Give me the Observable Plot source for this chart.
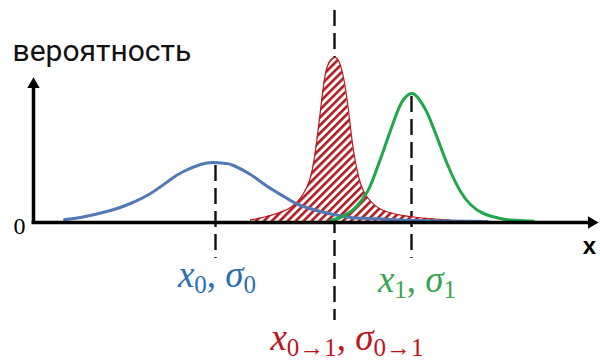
<!DOCTYPE html>
<html>
<head>
<meta charset="utf-8">
<script src="https://cdn.jsdelivr.net/npm/d3@7"></script>
<script src="https://cdn.jsdelivr.net/npm/@observablehq/plot@0.6"></script>
<style>
  body { margin: 0; background: #fff; }
</style>
</head>
<body>
<div id="chart"></div>
<script>
// Prior estimate (blue): wide bell around x0
const priorX = [0.58, 0.90, 1.50, 1.90, 2.30, 2.70, 2.96, 3.30, 3.56, 3.80, 3.96, 4.30, 4.64, 5.00, 5.30, 5.70, 5.96, 6.30, 6.64, 7.30, 8.30, 9.04];
const priorP = [0.03, 0.05, 0.12, 0.19, 0.29, 0.43, 0.51, 0.58, 0.60, 0.59, 0.57, 0.48, 0.36, 0.25, 0.17, 0.11, 0.08, 0.05, 0.04, 0.025, 0.015, 0.01];

// Measurement (green): narrower bell around x1
const measX = [5.90, 6.10, 6.24, 6.40, 6.64, 6.80, 6.96, 7.10, 7.24, 7.36, 7.52, 7.66, 7.80, 7.90, 8.04, 8.16, 8.30, 8.50, 8.70, 8.96, 9.30, 9.50, 9.96];
const measP = [0.02, 0.05, 0.09, 0.15, 0.31, 0.50, 0.72, 0.92, 1.11, 1.23, 1.29, 1.24, 1.13, 1.02, 0.84, 0.68, 0.51, 0.31, 0.18, 0.09, 0.04, 0.025, 0.012];

// Fused estimate (red, hatched): sharp peak between the two
const fusedX = [4.30, 4.70, 5.10, 5.36, 5.50, 5.60, 5.70, 5.80, 5.90, 5.98, 6.06, 6.16, 6.26, 6.36, 6.50, 6.64, 6.96, 7.64, 8.30];
const fusedP = [0.025, 0.07, 0.15, 0.29, 0.45, 0.72, 1.12, 1.49, 1.62, 1.65, 1.62, 1.45, 1.12, 0.72, 0.39, 0.25, 0.12, 0.05, 0.025];

// Means and their labels: x0, x1, x0→1
const means = [3.60, 7.52, 5.98];
const peaks = [0.60, 1.29, 1.65];
const subscripts = ["0", "1", "0→1"];

const yAxisTitle = "вероятность";
const zeroLabel = "0";
const xAxisTitle = "x";

const toRows = (xs, ps) => xs.map((x, i) => ({x, p: ps[i]}));
const prior = toRows(priorX, priorP);
const meas = toRows(measX, measP);
const fused = toRows(fusedX, fusedP);

const colors = ["#2a6fb0", "#38a552", "#c0141c"];

// Guide lines under each mean
const guides = [
  {x: means[0], y1: peaks[0] - 0.03, y2: -0.36},
  {x: means[1], y1: peaks[1] - 0.03, y2: -0.36},
  {x: means[2], y1: 2.12, y2: -0.98}
];

// Hatch pattern for the fused area
const hatchDefs = () => {
  const defs = d3.create("svg:defs");
  const pat = defs.append("pattern")
    .attr("id", "hatch")
    .attr("patternUnits", "userSpaceOnUse")
    .attr("width", 5.6).attr("height", 5.6)
    .attr("patternTransform", "rotate(45)");
  pat.append("rect").attr("width", 5.6).attr("height", 5.6).attr("fill", "#fff");
  pat.append("rect").attr("width", 2.6).attr("height", 5.6).attr("fill", "#b01a1e");
  return defs.node();
};

// Mean labels with subscripts, placed through the chart scales
const labelOffsets = [{dx: 2, y: -0.65}, {dx: 6, y: -0.70}, {dx: 13, y: -1.28}];
const meanLabels = (index, scales) => {
  const g = d3.create("svg:g")
    .attr("font-family", "'Liberation Serif', 'DejaVu Serif', serif")
    .attr("font-size", 37);
  means.forEach((m, i) => {
    const t = g.append("text")
      .attr("x", scales.x(m) + labelOffsets[i].dx)
      .attr("y", scales.y(labelOffsets[i].y))
      .attr("text-anchor", "middle")
      .attr("fill", colors[i]);
    t.append("tspan").attr("font-style", "italic").text("x");
    t.append("tspan").attr("font-size", 25).attr("dy", 6).text(subscripts[i]);
    t.append("tspan").attr("dy", -6).text(", ");
    t.append("tspan").attr("font-style", "italic").text("σ");
    t.append("tspan").attr("font-size", 25).attr("dy", 6).text(subscripts[i]);
  });
  return g.node();
};

const axisX0 = -0.04;
const axisXEnd = 11.26;
const axisYTop = 1.45;

const chart = Plot.plot({
  width: 600,
  height: 360,
  margin: 0,
  x: {domain: [-0.7, 11.3], axis: null},
  y: {domain: [-1.38, 2.22], axis: null},
  style: {background: "#fff"},
  marks: [
    hatchDefs,
    Plot.ruleX(guides, {x: "x", y1: "y1", y2: "y2", stroke: "#111", strokeWidth: 2.4, strokeDasharray: "16,7"}),
    Plot.areaY(fused, {x: "x", y: "p", fill: "url(#hatch)", curve: "natural"}),
    Plot.line(fused, {x: "x", y: "p", stroke: "#c0141c", strokeWidth: 1.2, curve: "natural"}),
    Plot.line(prior, {x: "x", y: "p", stroke: "#5079b5", strokeWidth: 3, curve: "natural"}),
    Plot.line(meas, {x: "x", y: "p", stroke: "#1fa84a", strokeWidth: 3, curve: "natural"}),
    // axes with arrowheads
    Plot.ruleY([0], {x1: axisX0 - 0.03, x2: axisXEnd - 0.1, stroke: "#000", strokeWidth: 3.5}),
    Plot.ruleX([axisX0], {y1: 0, y2: axisYTop - 0.08, stroke: "#000", strokeWidth: 3.5}),
    Plot.dot([{x: axisX0, y: axisYTop - 0.07}], {x: "x", y: "y", symbol: "triangle", r: 4.6, fill: "#000", stroke: null}),
    Plot.dot([{x: axisXEnd - 0.14, y: 0}], {x: "x", y: "y", symbol: "triangle", r: 4.6, fill: "#000", stroke: null, rotate: 90}),
    Plot.text([yAxisTitle], {x: -0.46, y: 1.71, text: d => d, textAnchor: "start", lineAnchor: "middle", fontSize: 30, fontFamily: "Roboto", fill: "#111"}),
    Plot.text([zeroLabel], {x: -0.32, y: -0.04, text: d => d, lineAnchor: "middle", fontSize: 24, fontFamily: "'Liberation Serif', serif", fill: "#000"}),
    Plot.text([xAxisTitle], {x: 11.08, y: -0.24, text: d => d, lineAnchor: "middle", fontSize: 24, fontWeight: "bold", fontFamily: "'Liberation Sans', sans-serif", fill: "#000"}),
    meanLabels
  ]
});

document.getElementById("chart").appendChild(chart);
</script>
</body>
</html>
